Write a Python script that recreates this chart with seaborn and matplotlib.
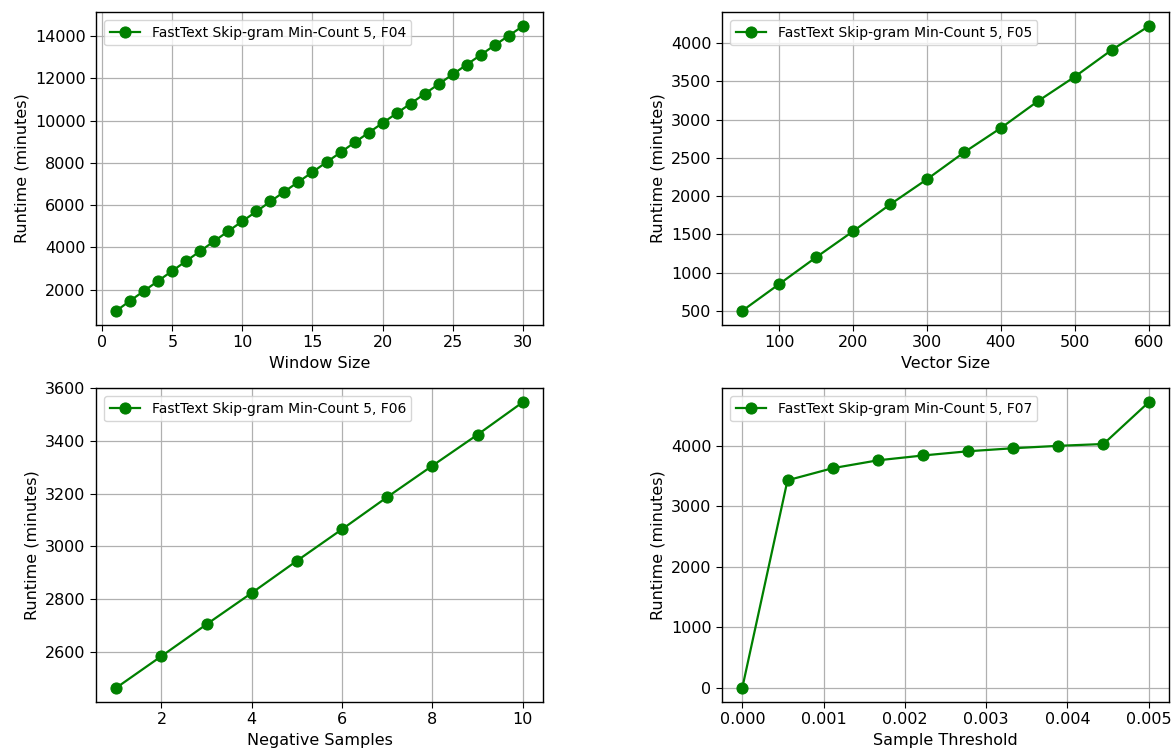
import matplotlib
matplotlib.use("Agg")
import matplotlib.pyplot as plt
import seaborn as sns
import pandas as pd

# Data
window_size = list(range(1, 31))
runtime_window = [1000, 1480, 1950, 2420, 2890, 3360, 3830, 4300, 4770, 5240,
                  5700, 6170, 6640, 7100, 7560, 8030, 8490, 8960, 9420, 9880,
                  10340, 10800, 11260, 11720, 12180, 12640, 13100, 13560, 14010, 14460]

vector_size = [50, 100, 150, 200, 250, 300, 350, 400, 450, 500, 550, 600]
runtime_vector = [500, 850, 1200, 1540, 1890, 2220, 2570, 2890, 3240, 3560, 3910, 4220]

negative_samples = [1, 2, 3, 4, 5, 6, 7, 8, 9, 10]
runtime_negative = [2463, 2583, 2704, 2823, 2945, 3065, 3187, 3306, 3424, 3547]

sample_threshold = [0.0, 0.000556, 0.001111, 0.001667, 0.002222, 0.002778,
                    0.003333, 0.003889, 0.004444, 0.005]
runtime_threshold = [0, 3430, 3630, 3760, 3840, 3910, 3960, 4000, 4030, 4720]

panels = [
    (window_size, runtime_window, "Window Size", "FastText Skip-gram Min-Count 5, F04"),
    (vector_size, runtime_vector, "Vector Size", "FastText Skip-gram Min-Count 5, F05"),
    (negative_samples, runtime_negative, "Negative Samples", "FastText Skip-gram Min-Count 5, F06"),
    (sample_threshold, runtime_threshold, "Sample Threshold", "FastText Skip-gram Min-Count 5, F07"),
]

plt.rcParams['font.family'] = ['DejaVu Sans']
plt.rcParams['font.size'] = 11.5

fig = plt.figure(figsize=(11.73, 7.51), dpi=100)
W, H = 1173, 751
boxes = [
    (96, 12, 543, 325),
    (722, 12, 1169, 325),
    (96, 388, 543, 702),
    (722, 388, 1169, 702),
]

for (x, y, xlabel, label), (l, t, r, b) in zip(panels, boxes):
    ax = fig.add_axes([l / W, 1 - b / H, (r - l) / W, (b - t) / H])
    df = pd.DataFrame({"x": x, "y": y})
    sns.lineplot(data=df, x="x", y="y", ax=ax, color="green", marker="o",
                 markersize=8, markeredgecolor="green", linewidth=1.6, label=label)
    ax.grid(True, color="#b0b0b0", linewidth=0.9)
    ax.set_axisbelow(True)
    ax.set_xlabel(xlabel, fontsize=11.5)
    ax.set_ylabel("Runtime (minutes)", fontsize=11.5)
    ax.tick_params(labelsize=11.5, direction="out", length=4)
    for s in ax.spines.values():
        s.set_color("black")
        s.set_linewidth(1.0)
    ax.legend(loc="upper left", fontsize=10, framealpha=0.8,
              borderaxespad=0.6, handlelength=2.2)

fig.savefig("out.png", dpi=100)
